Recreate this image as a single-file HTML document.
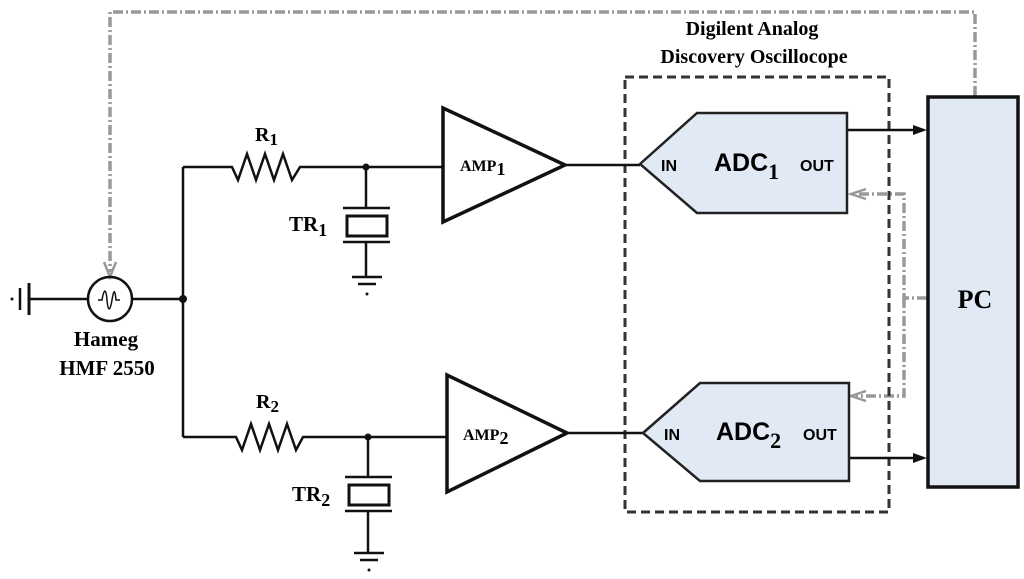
<!DOCTYPE html>
<html><head><meta charset="utf-8"><style>
html,body{margin:0;padding:0;background:#fff;}
svg{display:block;}
.t{font-family:"Liberation Serif",serif;font-weight:bold;fill:#000;}
.s{font-family:"Liberation Sans",sans-serif;font-weight:bold;fill:#000;}
</style></head><body>
<svg width="1024" height="579" viewBox="0 0 1024 579" xmlns="http://www.w3.org/2000/svg">
<g stroke="#999" stroke-width="3.5" fill="none" stroke-dasharray="10,3,2,3">
<polyline points="975,96 975,12 110,12 110,272"/>
<polyline points="927,298 904,298 904,194 856,194"/>
<polyline points="904,298 904,396 856,396"/>
</g>
<g stroke="#999" stroke-width="2.5" fill="none">
<polyline points="104,262 110,277 116,262"/>
<polyline points="866,189 851,194 866,199"/>
<polyline points="866,391 851,396 866,401"/>
</g>
<rect x="625" y="77" width="264" height="435" fill="none" stroke="#333" stroke-width="3" stroke-dasharray="9,5"/>
<g stroke="#111" stroke-width="2.5" fill="none">
<line x1="20" y1="288" x2="20" y2="310"/>
<line x1="29" y1="283" x2="29" y2="315" stroke-width="3"/>
<line x1="29" y1="299" x2="88" y2="299"/>
<line x1="132" y1="299" x2="183" y2="299"/>
<polyline points="183,167 183,437"/>
<polyline points="183,167 232,167 238,180 247,154 256,180 265,154 274,180 283,154 292,180 300,167 443,167"/>
<polyline points="183,437 236,437 242,450 251,424 260,450 269,424 278,450 287,424 296,450 303,437 447,437"/>
<line x1="366" y1="167" x2="366" y2="208"/>
<line x1="343" y1="208" x2="390" y2="208"/>
<rect x="347" y="216" width="40" height="20" stroke-width="3"/>
<line x1="343" y1="242" x2="390" y2="242"/>
<line x1="366" y1="242" x2="366" y2="277"/>
<line x1="352" y1="277" x2="382" y2="277"/>
<line x1="358" y1="284" x2="376" y2="284"/>
<line x1="368" y1="437" x2="368" y2="477"/>
<line x1="345" y1="477" x2="392" y2="477"/>
<rect x="349" y="485" width="40" height="20" stroke-width="3"/>
<line x1="345" y1="511" x2="392" y2="511"/>
<line x1="368" y1="511" x2="368" y2="553"/>
<line x1="354" y1="553" x2="384" y2="553"/>
<line x1="360" y1="560" x2="378" y2="560"/>
<line x1="565" y1="165" x2="640" y2="165"/>
<line x1="567" y1="433" x2="643" y2="433"/>
<line x1="847" y1="130" x2="915" y2="130"/>
<line x1="849" y1="458" x2="915" y2="458"/>
<circle cx="110" cy="299" r="22"/>
<path d="M98,300 h4 c2,-12 4,-12 5,0 s3,12 5,0 s3,-10 4,0 h4" stroke-width="1.5"/>
</g>
<polygon points="927,130 913,125 913,135" fill="#111"/>
<polygon points="927,458 913,453 913,463" fill="#111"/>
<circle cx="183" cy="299" r="4" fill="#111"/>
<circle cx="366" cy="167" r="3.5" fill="#111"/>
<circle cx="368" cy="437" r="3.5" fill="#111"/>
<circle cx="12" cy="299" r="1.5" fill="#111"/>
<circle cx="367" cy="294" r="1.5" fill="#111"/>
<circle cx="369" cy="570" r="1.5" fill="#111"/>
<polygon points="443,108 443,222 565,165" fill="#fff" stroke="#111" stroke-width="3.5"/>
<polygon points="447,375 447,492 567,433" fill="#fff" stroke="#111" stroke-width="3.5"/>
<polygon points="640,164 697,113 847,113 847,213 697,213" fill="#e1e9f5" stroke="#222" stroke-width="2.5"/>
<polygon points="643,433 700,383 849,383 849,481 700,481" fill="#e1e9f5" stroke="#222" stroke-width="2.5"/>
<rect x="928" y="97" width="90" height="390" fill="#e1e9f5" stroke="#111" stroke-width="3.5"/>
<text class="t" x="255" y="141" font-size="20">R<tspan font-size="17" dy="4">1</tspan></text>
<text class="t" x="256" y="408" font-size="20">R<tspan font-size="17" dy="4">2</tspan></text>
<text class="t" x="289" y="231" font-size="21">TR<tspan font-size="18" dy="5">1</tspan></text>
<text class="t" x="292" y="501" font-size="21">TR<tspan font-size="18" dy="5">2</tspan></text>
<text class="t" x="106" y="346" font-size="21" text-anchor="middle">Hameg</text>
<text class="t" x="107" y="375" font-size="21" text-anchor="middle">HMF 2550</text>
<text class="t" x="460" y="171" font-size="16">AMP<tspan font-size="18" dy="4">1</tspan></text>
<text class="t" x="463" y="440" font-size="16">AMP<tspan font-size="18" dy="4">2</tspan></text>
<text class="t" x="752" y="35" font-size="20" text-anchor="middle">Digilent Analog</text>
<text class="t" x="754" y="63" font-size="20" text-anchor="middle">Discovery Oscillocope</text>
<text class="s" x="661" y="171" font-size="16">IN</text>
<text class="s" x="664" y="440" font-size="16">IN</text>
<text class="s" x="800" y="171" font-size="16">OUT</text>
<text class="s" x="803" y="440" font-size="16">OUT</text>
<text class="s" x="714" y="171" font-size="25">ADC<tspan class="t" font-size="22" dy="8">1</tspan></text>
<text class="s" x="716" y="440" font-size="25">ADC<tspan class="t" font-size="22" dy="8">2</tspan></text>
<text class="t" x="975" y="308" font-size="26" text-anchor="middle">PC</text>
</svg>
</body></html>
